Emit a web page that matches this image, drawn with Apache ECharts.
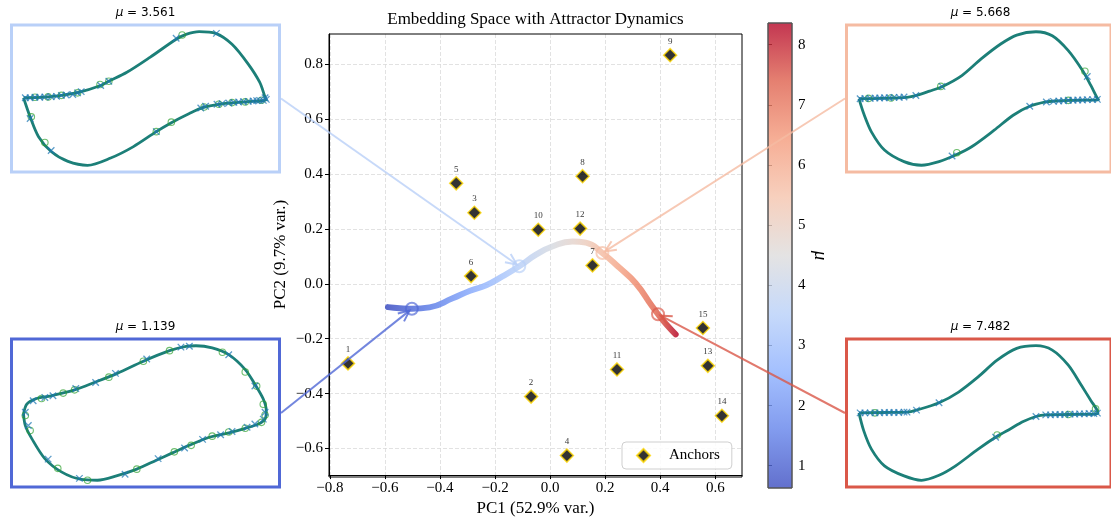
<!DOCTYPE html>
<html>
<head>
<meta charset="utf-8">
<script src="https://cdn.jsdelivr.net/npm/echarts@6/dist/echarts.min.js"></script>
<style>
html, body { margin: 0; padding: 0; background: #fff; }
#chart { width: 1111px; height: 522px; }
</style>
</head>
<body>
<div id="chart"></div>
<script>
// ---- Anchor embeddings (PC1 / PC2) ----
const anchorIds = [1, 2, 3, 4, 5, 6, 7, 8, 9, 10, 11, 12, 13, 14, 15];
const anchorPC1 = [-0.734, -0.069, -0.275, 0.061, -0.341, -0.287, 0.154, 0.118, 0.436, -0.043, 0.243, 0.109, 0.573, 0.624, 0.555];
const anchorPC2 = [-0.290, -0.411, 0.259, -0.626, 0.366, 0.028, 0.067, 0.392, 0.833, 0.197, -0.312, 0.201, -0.299, -0.481, -0.161];

// ---- Attractor trajectory as mu is swept ----
const trajPC1 = [-0.589, -0.546, -0.502, -0.438, -0.354, -0.293, -0.232, -0.173, -0.112, -0.051, 0.008, 0.082, 0.130, 0.190, 0.251, 0.311, 0.370, 0.392, 0.425, 0.456];
const trajPC2 = [-0.085, -0.089, -0.091, -0.086, -0.053, -0.026, -0.005, 0.027, 0.064, 0.106, 0.136, 0.154, 0.150, 0.112, 0.059, 0.002, -0.081, -0.111, -0.151, -0.184];
const trajMu  = [0.63, 0.90, 1.139, 1.50, 2.00, 2.40, 2.80, 3.20, 3.561, 3.95, 4.35, 4.80, 5.15, 5.668, 6.20, 6.70, 7.20, 7.482, 7.90, 8.36];

// ---- Snapshot states shown as insets ----
const snapMu  = [1.139, 3.561, 5.668, 7.482];
const snapPC1 = [-0.502, -0.112, 0.190, 0.392];
const snapPC2 = [-0.091, 0.064, 0.112, -0.111];

const muRange = [0.63, 8.36];
const muTicks = [1, 2, 3, 4, 5, 6, 7, 8];
const pc1Ticks = [-0.8, -0.6, -0.4, -0.2, 0.0, 0.2, 0.4, 0.6];
const pc2Ticks = [-0.6, -0.4, -0.2, 0.0, 0.2, 0.4, 0.6, 0.8];

// ---- Limit cycles (x, dx/dt) for each snapshot ----
const cycleMu1 = [[-2.03,-0.01],[-1.975,0.35],[-1.84,0.54],[-1.57,0.66],[-1.18,0.88],[-0.855,1.15],[-0.47,1.49],[-0.036,1.94],[0.40,2.33],[0.675,2.49],[0.84,2.51],[1.11,2.43],[1.385,2.18],[1.66,1.63],[1.82,1.09],[1.96,0.54],[2.01,0.11],[1.99,-0.20],[1.88,-0.38],[1.66,-0.54],[1.385,-0.71],[1.06,-0.87],[0.73,-1.17],[0.456,-1.44],[0.18,-1.72],[-0.145,-2.05],[-0.47,-2.29],[-0.80,-2.46],[-1.07,-2.43],[-1.40,-2.15],[-1.675,-1.66],[-1.89,-0.93],[-2.00,-0.44],[-2.03,-0.01]];
const crossMu1 = [[-2.00,0.05],[-1.95,-0.44],[-1.87,0.48],[-1.675,0.60],[-1.54,0.66],[-1.16,0.93],[-0.83,1.15],[-0.50,1.49],[0.02,2.02],[0.59,2.46],[0.73,2.49],[1.385,2.18],[1.82,1.02],[1.99,0.05],[1.96,-0.20],[1.82,-0.38],[1.69,-0.50],[1.44,-0.66],[1.25,-0.78],[0.95,-0.95],[0.65,-1.27],[0.21,-1.66],[-0.34,-2.24],[-1.10,-2.39],[-1.62,-1.68]];
const ringMu1 = [[-2.00,-0.07],[-1.92,-0.62],[-1.46,-2.02],[-0.965,-2.46],[-0.145,-2.05],[0.48,-1.41],[0.76,-1.17],[1.11,-0.83],[1.385,-0.68],[1.66,-0.54],[1.93,-0.32],[1.99,-0.05],[1.96,0.35],[1.85,1.02],[1.66,1.54],[1.28,2.27],[0.40,2.33],[-0.036,1.94],[-0.61,1.35],[-1.18,0.88],[-1.37,0.76],[-1.73,0.56]];

const cycleMu2 = [[-2.03,0.08],[-1.675,0.13],[-1.40,0.25],[-1.10,0.48],[-0.746,0.96],[-0.61,1.26],[-0.31,1.90],[0.074,2.97],[0.51,4.27],[0.675,4.62],[0.893,4.81],[1.167,4.69],[1.44,3.91],[1.71,2.49],[1.90,1.19],[1.99,0.13],[2.01,-0.06],[1.66,-0.22],[1.22,-0.39],[0.95,-0.63],[0.73,-1.05],[0.43,-1.71],[0.18,-2.35],[-0.20,-3.42],[-0.58,-4.24],[-0.965,-4.76],[-1.29,-4.48],[-1.57,-3.77],[-1.78,-2.71],[-1.92,-1.29],[-2.03,0.08]];
const crossMu2 = [[-2.00,0.08],[-1.92,0.08],[-1.84,0.11],[-1.76,0.11],[-1.675,0.13],[-1.57,0.15],[-1.48,0.18],[-1.40,0.25],[-1.32,0.28],[-1.21,0.31],[-1.13,0.43],[-1.07,0.52],[-0.746,0.96],[-0.61,1.26],[0.51,4.34],[1.18,4.69],[2.01,-0.04],[1.96,-0.11],[1.90,-0.11],[1.85,-0.13],[1.79,-0.15],[1.71,-0.18],[1.63,-0.20],[1.55,-0.23],[1.47,-0.25],[1.385,-0.30],[1.275,-0.34],[1.19,-0.39],[1.0,-0.53],[0.92,-0.65],[0.18,-2.35],[-1.57,-3.70],[-1.92,-1.41],[1.99,0.08]];
const ringMu2 = [[-1.90,-1.29],[-1.675,-3.13],[-0.757,1.03],[-0.61,1.26],[0.61,4.57],[0.43,-1.67],[0.18,-2.35],[-1.84,0.11],[-1.62,0.14],[-1.40,0.25],[-1.13,0.43],[1.93,-0.10],[1.66,-0.22],[1.44,-0.27],[1.22,-0.39],[0.975,-0.58]];

const cycleMu3 = [[-2.02,0],[-1.64,0.03],[-1.21,0.14],[-1.05,0.34],[-0.83,0.79],[-0.61,1.28],[-0.285,2.41],[0.04,4.14],[0.37,5.69],[0.64,6.62],[0.965,6.97],[1.24,6.55],[1.51,5.0],[1.75,2.93],[1.89,1.38],[1.99,0.17],[2.02,-0.10],[1.62,-0.17],[1.29,-0.24],[1.13,-0.34],[0.86,-0.79],[0.58,-1.72],[0.26,-3.28],[-0.12,-5.0],[-0.39,-5.86],[-0.67,-6.55],[-0.965,-6.93],[-1.26,-6.55],[-1.59,-5.34],[-1.81,-3.45],[-1.94,-1.55],[-2.02,0]];
const crossMu3 = [[-2.00,0],[-1.92,0.03],[-1.83,0.03],[-1.75,0.07],[-1.67,0.07],[-1.59,0.10],[-1.51,0.10],[-1.43,0.14],[-1.34,0.14],[-1.26,0.17],[-1.06,0.34],[-0.62,1.28],[1.83,2.31],[0.86,-0.79],[1.14,-0.34],[1.26,-0.28],[1.35,-0.24],[1.43,-0.21],[1.51,-0.17],[1.59,-0.17],[1.67,-0.14],[1.75,-0.14],[1.83,-0.10],[1.92,-0.10],[2.0,-0.07],[-0.45,-5.97]];
const ringMu3 = [[1.79,2.86],[-0.37,-5.62],[-0.64,1.28],[-1.86,0.03],[-1.48,0.07],[1.51,-0.17]];

const cycleMu4 = [[-2.02,0.09],[-1.59,0.14],[-1.21,0.19],[-1.05,0.47],[-0.67,1.50],[-0.34,3.0],[-0.01,5.12],[0.31,7.46],[0.64,9.11],[0.965,9.48],[1.24,8.87],[1.51,6.76],[1.73,3.94],[1.89,1.83],[2.0,0.42],[2.01,-0.05],[1.51,-0.14],[1.13,-0.19],[0.965,-0.42],[0.75,-1.13],[0.53,-2.16],[0.31,-3.19],[-0.01,-4.98],[-0.39,-7.32],[-0.67,-8.64],[-0.965,-9.34],[-1.26,-8.73],[-1.59,-7.32],[-1.81,-4.98],[-1.94,-2.39],[-2.02,0.09]];
const crossMu4 = [[-2.00,0.09],[-1.92,0.09],[-1.83,0.09],[-1.75,0.09],[-1.67,0.09],[-1.59,0.14],[-1.51,0.14],[-1.43,0.14],[-1.35,0.14],[-1.26,0.19],[-1.21,0.19],[-1.05,0.47],[-0.67,1.50],[0.965,-0.42],[1.13,-0.19],[1.21,-0.19],[1.29,-0.14],[1.37,-0.14],[1.45,-0.14],[1.54,-0.09],[1.62,-0.09],[1.70,-0.05],[1.78,-0.05],[1.86,0],[1.94,0],[2.0,0.05],[0.285,-3.33]];
const ringMu4 = [[0.31,-3.0],[1.97,0.66],[-1.75,0.09],[1.51,-0.14]];

const cycles = [cycleMu1, cycleMu2, cycleMu3, cycleMu4];
const crosses = [crossMu1, crossMu2, crossMu3, crossMu4];
const rings = [ringMu1, ringMu2, ringMu3, ringMu4];
const cycleYLim = [[-2.71, 2.76], [-5.24, 5.29], [-7.63, 7.67], [-10.28, 10.42]];
const cycleXLim = [-2.23, 2.23];

// ---- Layout ----
const SERIF = '"Liberation Serif", "DejaVu Serif", serif';
const SANS = '"DejaVu Sans", sans-serif';
const mainGrid = { left: 329, top: 34, width: 413, height: 443 };
const cbarGrid = { left: 768, top: 23, width: 24, height: 465 };
// inset boxes, in the same order as snapMu
const insetBoxes = [
  { x: 10,  y: 337.5, w: 271, h: 151, side: 'right' },
  { x: 10,  y: 23.5,  w: 271, h: 150, side: 'right' },
  { x: 845, y: 23.5,  w: 271, h: 150, side: 'left' },
  { x: 845, y: 337.5, w: 271, h: 151, side: 'left' }
];

// coolwarm colormap
const coolwarm = [[59,76,192],[98,130,234],[141,176,254],[184,208,249],[221,220,220],[245,196,173],[244,154,123],[222,96,77],[180,4,38]];
function cmap(t, a) {
  t = Math.max(0, Math.min(1, t));
  const p = t * (coolwarm.length - 1);
  const i = Math.min(coolwarm.length - 2, Math.floor(p));
  const f = p - i;
  const c = coolwarm[i].map((v, j) => Math.round(v + (coolwarm[i + 1][j] - v) * f));
  return 'rgba(' + c[0] + ',' + c[1] + ',' + c[2] + ',' + (a == null ? 1 : a) + ')';
}
function muColor(mu, a) {
  return cmap((mu - muRange[0]) / (muRange[1] - muRange[0]), a);
}

function pcLabel(v) {
  return (Math.round(v * 10) / 10).toFixed(1).replace('-', '\u2212');
}

// gradient along the trajectory (PC1 grows monotonically with mu)
const x0 = trajPC1[0], x1 = trajPC1[trajPC1.length - 1];
const trajStops = trajPC1.map((x, i) => ({ offset: (x - x0) / (x1 - x0), color: muColor(trajMu[i], 0.85) }));
const cbarStops = coolwarm.map((c, j) => ({ offset: j / (coolwarm.length - 1), color: cmap(1 - j / (coolwarm.length - 1), 0.8) }));

const chart = echarts.init(document.getElementById('chart'), null, { renderer: 'canvas' });

const grids = [
  Object.assign({ show: false }, mainGrid),
  Object.assign({ show: false }, cbarGrid)
];
insetBoxes.forEach((b, k) => {
  grids.push({ left: b.x + 1.5, top: b.y + 1.5, width: b.w - 3, height: b.h - 3,
    show: true, borderColor: muColor(snapMu[k], 1), borderWidth: 3, backgroundColor: '#fff' });
});

const xAxes = [
  {
    gridIndex: 0, type: 'value', min: -0.803, max: 0.697, splitNumber: 7,
    axisLine: { show: true, onZero: false, lineStyle: { color: '#000', width: 1 } },
    axisTick: { show: true, inside: false, length: 4, customValues: pc1Ticks, lineStyle: { color: '#000' } },
    axisLabel: { customValues: pc1Ticks, formatter: pcLabel, fontFamily: SERIF, fontSize: 15, color: '#000', margin: 5 },
    splitLine: { show: true, lineStyle: { color: '#dadada', width: 0.8, type: [4, 2] } },
    name: 'PC1 (52.9% var.)', nameLocation: 'middle', nameGap: 23,
    nameTextStyle: { fontFamily: SERIF, fontSize: 17, color: '#000' }
  },
  { gridIndex: 1, type: 'value', min: 0, max: 1, show: false }
];
const yAxes = [
  {
    gridIndex: 0, type: 'value', min: -0.697, max: 0.91, splitNumber: 8,
    axisLine: { show: true, onZero: false, lineStyle: { color: '#000', width: 1 } },
    axisTick: { show: true, inside: false, length: 4, customValues: pc2Ticks, lineStyle: { color: '#000' } },
    axisLabel: { customValues: pc2Ticks, formatter: pcLabel, fontFamily: SERIF, fontSize: 15, color: '#000', margin: 6 },
    splitLine: { show: true, lineStyle: { color: '#dadada', width: 0.8, type: [4, 2] } },
    name: 'PC2 (9.7% var.)', nameLocation: 'middle', nameGap: 40,
    nameTextStyle: { fontFamily: SERIF, fontSize: 17, color: '#000' }
  },
  {
    gridIndex: 1, type: 'value', position: 'right', min: muRange[0], max: muRange[1],
    axisLine: { show: false },
    axisTick: { show: true, length: 4, customValues: muTicks, lineStyle: { color: '#222' } },
    axisLabel: { customValues: muTicks, fontFamily: SERIF, fontSize: 15, color: '#000', margin: 6 },
    splitLine: { show: false },
    name: '\u03bc', nameLocation: 'middle', nameRotate: -90, nameGap: 18,
    nameTextStyle: { fontFamily: SERIF, fontSize: 19, fontStyle: 'italic', color: '#000' }
  }
];
insetBoxes.forEach((b, k) => {
  xAxes.push({ gridIndex: 2 + k, type: 'value', min: cycleXLim[0], max: cycleXLim[1], show: false });
  yAxes.push({ gridIndex: 2 + k, type: 'value', min: cycleYLim[k][0], max: cycleYLim[k][1], show: false });
});

const series = [
  {
    name: 'trajectory', type: 'line', xAxisIndex: 0, yAxisIndex: 0,
    data: trajPC1.map((x, i) => [x, trajPC2[i], trajMu[i]]),
    smooth: 0.5, symbol: 'none', z: 3,
    lineStyle: { width: 6, cap: 'round', join: 'round',
      color: new echarts.graphic.LinearGradient(0, 0, 1, 0, trajStops) }
  },
  {
    name: 'snapshots', type: 'scatter', xAxisIndex: 0, yAxisIndex: 0, z: 4,
    symbol: 'circle', symbolSize: 12,
    data: snapMu.map((mu, k) => ({
      value: [snapPC1[k], snapPC2[k], mu],
      itemStyle: { color: 'rgba(0,0,0,0)', borderColor: muColor(mu, 0.85), borderWidth: 2 }
    }))
  },
  {
    name: 'Anchors', type: 'scatter', xAxisIndex: 0, yAxisIndex: 0, z: 5,
    symbol: 'diamond', symbolSize: 13,
    itemStyle: { color: '#000', borderColor: '#FFD700', borderWidth: 1.5 },
    label: { show: true, position: 'top', distance: 2, fontFamily: SERIF, fontSize: 9, color: '#000',
      formatter: p => String(anchorIds[p.dataIndex]) },
    data: anchorPC1.map((x, i) => [x, anchorPC2[i]])
  },
  {
    name: 'colorbar', type: 'custom', xAxisIndex: 1, yAxisIndex: 1, z: 2,
    data: [[0, muRange[0], muRange[1]]],
    renderItem: (params, api) => {
      const p0 = api.coord([0, api.value(1)]);
      const p1 = api.coord([1, api.value(2)]);
      return {
        type: 'rect',
        shape: { x: p0[0], y: p1[1], width: p1[0] - p0[0], height: p0[1] - p1[1] },
        style: { fill: new echarts.graphic.LinearGradient(0, 0, 0, 1, cbarStops), stroke: '#555', lineWidth: 1 }
      };
    }
  }
];

cycles.forEach((cyc, k) => {
  series.push({
    type: 'line', xAxisIndex: 2 + k, yAxisIndex: 2 + k, data: cyc, smooth: 0.3,
    symbol: 'none', z: 3, lineStyle: { color: '#1c7f78', width: 2.8 }
  });
  series.push({
    type: 'scatter', xAxisIndex: 2 + k, yAxisIndex: 2 + k, data: rings[k], z: 4,
    symbol: 'circle', symbolSize: 6.5,
    itemStyle: { color: 'rgba(0,0,0,0)', borderColor: 'rgba(44,160,44,0.85)', borderWidth: 1.1 }
  });
  series.push({
    type: 'scatter', xAxisIndex: 2 + k, yAxisIndex: 2 + k, data: crosses[k], z: 5,
    symbol: 'path://M0,0L10,10M10,0L0,10', symbolSize: 6.5,
    itemStyle: { color: 'rgba(0,0,0,0)', borderColor: 'rgba(31,119,180,0.9)', borderWidth: 1.3 }
  });
});

chart.setOption({
  animation: false,
  backgroundColor: '#fff',
  grid: grids,
  xAxis: xAxes,
  yAxis: yAxes,
  legend: {
    data: ['Anchors'], left: 622, top: 442, orient: 'horizontal',
    itemWidth: 13, itemHeight: 13,
    padding: [6, 12, 6, 14], borderColor: '#cfcfcf', borderWidth: 1, borderRadius: 4,
    backgroundColor: 'rgba(255,255,255,0.85)',
    textStyle: { fontFamily: SERIF, fontSize: 15, color: '#000', padding: [0, 0, 0, 14] }
  },
  series: series
});

// frame, titles, inset captions and the connector arrows
const gfx = [
  { type: 'rect', z: 40, silent: true,
    shape: { x: mainGrid.left, y: mainGrid.top, width: mainGrid.width, height: mainGrid.height },
    style: { stroke: '#000', lineWidth: 1, fill: null } },
  { type: 'text', x: mainGrid.left + mainGrid.width / 2, y: 20, z: 60,
    style: { text: 'Embedding Space with Attractor Dynamics', fill: '#000',
      font: '17px ' + SERIF, align: 'center', verticalAlign: 'middle' } }
];
snapMu.forEach((mu, k) => {
  const b = insetBoxes[k];
  gfx.push({ type: 'text', x: b.x + 135.5, y: b.y - 10.5, z: 60,
    style: { text: '{i|\u03bc} = ' + mu.toFixed(3), fill: '#000', fontSize: 12, fontFamily: SANS,
      align: 'center', verticalAlign: 'middle',
      rich: { i: { fontStyle: 'italic', fontSize: 12, fontFamily: SANS, fill: '#000' } } } });

  const s = [b.side === 'right' ? b.x + b.w : b.x, b.y + b.h / 2];
  const e = chart.convertToPixel({ gridIndex: 0 }, [snapPC1[k], snapPC2[k]]);
  const dx = e[0] - s[0], dy = e[1] - s[1], L = Math.hypot(dx, dy);
  const ux = dx / L, uy = dy / L;
  const tip = [e[0] - ux * 3, e[1] - uy * 3];
  const col = muColor(mu, 0.8);
  const hl = 11, hw = 5;
  gfx.push({ type: 'line', z: 50, silent: true,
    shape: { x1: s[0], y1: s[1], x2: tip[0], y2: tip[1] },
    style: { stroke: col, lineWidth: 2 } });
  gfx.push({ type: 'polyline', z: 50, silent: true,
    shape: { points: [
      [tip[0] - ux * hl - uy * hw, tip[1] - uy * hl + ux * hw],
      tip,
      [tip[0] - ux * hl + uy * hw, tip[1] - uy * hl - ux * hw]
    ] },
    style: { stroke: col, lineWidth: 2, fill: null } });
});
chart.setOption({ graphic: gfx });
</script>
</body>
</html>
